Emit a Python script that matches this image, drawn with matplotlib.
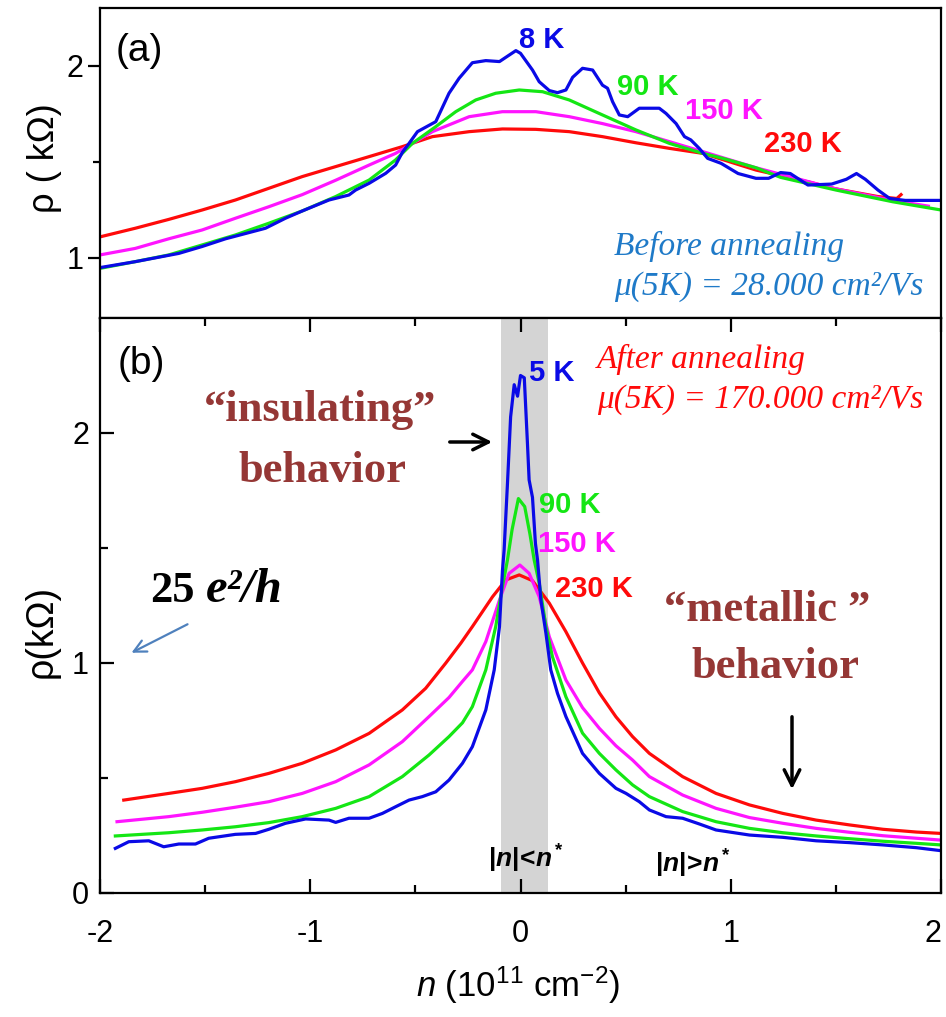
import matplotlib
matplotlib.use('Agg')
import matplotlib.pyplot as plt
from matplotlib import font_manager as fm
from matplotlib.ticker import FixedLocator

names = {f.name for f in fm.fontManager.ttflist}
NARROW = 'Liberation Sans Narrow' if 'Liberation Sans Narrow' in names else 'Liberation Sans'
SERIF = 'Liberation Serif'

plt.rcParams['font.family'] = [NARROW, 'DejaVu Sans']
plt.rcParams['mathtext.fontset'] = 'custom'
plt.rcParams['mathtext.rm'] = NARROW
plt.rcParams['mathtext.it'] = NARROW + ':italic'
plt.rcParams['mathtext.bf'] = NARROW + ':bold'
try:
    plt.rcParams['mathtext.bfit'] = NARROW + ':italic:bold'
except KeyError:
    pass

# ---------------- data: panel (a) before annealing ----------------
a8_x = [-2.0, -1.832, -1.625, -1.514, -1.403, -1.213, -1.118, -1.038, -0.911, -0.816, -0.784,
        -0.72, -0.641, -0.594, -0.562, -0.53, -0.49, -0.403, -0.34, -0.292, -0.229, -0.165,
        -0.10, -0.07, -0.022, 0.0, 0.057, 0.089, 0.137, 0.176, 0.216, 0.248, 0.295, 0.343,
        0.39, 0.414, 0.438, 0.47, 0.51, 0.565, 0.66, 0.692, 0.74, 0.78, 0.81, 0.85, 0.89,
        0.954, 1.035, 1.12, 1.18, 1.237, 1.283, 1.367, 1.48, 1.55, 1.598, 1.64, 1.70, 1.756,
        1.83, 2.0]
a8_y = [0.95, 0.981, 1.024, 1.06, 1.10, 1.155, 1.207, 1.245, 1.302, 1.328, 1.354, 1.389,
        1.441, 1.484, 1.55, 1.597, 1.658, 1.71, 1.858, 1.936, 2.017, 2.028, 2.023, 2.045,
        2.08, 2.066, 1.979, 1.918, 1.872, 1.861, 1.875, 1.941, 1.988, 1.979, 1.90, 1.884,
        1.814, 1.745, 1.736, 1.78, 1.78, 1.753, 1.70, 1.632, 1.615, 1.571, 1.519, 1.493,
        1.44, 1.415, 1.415, 1.445, 1.44, 1.38, 1.385, 1.41, 1.44, 1.41, 1.354, 1.31, 1.30,
        1.30]

a90_x = [-2.0, -1.832, -1.673, -1.514, -1.356, -1.197, -1.038, -0.879, -0.72, -0.595,
         -0.514, -0.403, -0.308, -0.213, -0.118, -0.006, 0.105, 0.232, 0.39, 0.549, 0.708,
         0.867, 0.962, 1.12, 1.237, 1.5, 1.77, 2.0]
a90_y = [0.946, 0.981, 1.016, 1.068, 1.12, 1.181, 1.245, 1.32, 1.406, 1.51, 1.597, 1.684,
         1.762, 1.823, 1.858, 1.875, 1.866, 1.823, 1.745, 1.667, 1.597, 1.545, 1.519, 1.47,
         1.42, 1.354, 1.293, 1.25]

a150_x = [-2.0, -1.832, -1.673, -1.514, -1.356, -1.197, -1.038, -0.879, -0.72, -0.594,
          -0.419, -0.244, -0.086, 0.073, 0.232, 0.39, 0.549, 0.708, 0.867, 1.12, 1.5, 1.77,
          1.94]
a150_y = [1.016, 1.05, 1.10, 1.146, 1.207, 1.267, 1.33, 1.405, 1.484, 1.545, 1.658, 1.736,
          1.762, 1.762, 1.736, 1.70, 1.658, 1.606, 1.554, 1.47, 1.36, 1.30, 1.27]

a230_x = [-2.0, -1.832, -1.673, -1.514, -1.356, -1.197, -1.038, -0.879, -0.72, -0.562,
          -0.419, -0.244, -0.086, 0.073, 0.232, 0.39, 0.549, 0.708, 0.867, 1.12, 1.37, 1.5,
          1.7, 1.79, 1.81]
a230_y = [1.11, 1.155, 1.201, 1.25, 1.302, 1.363, 1.424, 1.476, 1.528, 1.58, 1.632, 1.658,
          1.672, 1.67, 1.658, 1.632, 1.60, 1.571, 1.545, 1.458, 1.396, 1.36, 1.32, 1.31, 1.33]

# ---------------- data: panel (b) after annealing ----------------
b5_x = [-1.927, -1.863, -1.768, -1.697, -1.625, -1.546, -1.483, -1.356, -1.26, -1.197,
        -1.118, -1.022, -0.911, -0.879, -0.816, -0.72, -0.657, -0.594, -0.53, -0.467,
        -0.403, -0.34, -0.276, -0.229, -0.165, -0.125, -0.10, -0.086, -0.078, -0.062,
        -0.047, -0.03, -0.014, 0.0, 0.018, 0.033, 0.041, 0.057, 0.071, 0.081, 0.097, 0.121,
        0.144, 0.176, 0.216, 0.295, 0.375, 0.454, 0.502, 0.565, 0.613, 0.692, 0.771, 0.851,
        0.93, 1.089, 1.248, 1.406, 1.565, 1.724, 1.883, 2.0]
b5_y = [0.194, 0.223, 0.227, 0.201, 0.213, 0.213, 0.238, 0.255, 0.259, 0.277, 0.303, 0.322,
        0.317, 0.307, 0.325, 0.325, 0.346, 0.375, 0.404, 0.419, 0.44, 0.491, 0.564, 0.636,
        0.796, 0.97, 1.158, 1.40, 1.49, 1.78, 2.07, 2.21, 2.16, 2.25, 2.24, 1.956, 1.796,
        1.72, 1.52, 1.448, 1.274, 1.129, 0.97, 0.868, 0.767, 0.607, 0.52, 0.455, 0.433,
        0.397, 0.361, 0.332, 0.325, 0.30, 0.274, 0.252, 0.242, 0.227, 0.219, 0.209, 0.197,
        0.184]

b90_x = [-1.927, -1.673, -1.514, -1.356, -1.197, -1.038, -0.879, -0.72, -0.562, -0.435,
         -0.34, -0.276, -0.229, -0.165, -0.118, -0.086, -0.062, -0.04, -0.01, 0.02, 0.045,
         0.065, 0.089, 0.121, 0.152, 0.216, 0.295, 0.375, 0.454, 0.533, 0.613, 0.771, 0.93,
         1.089, 1.248, 1.406, 1.565, 1.724, 1.883, 2.0]
b90_y = [0.248, 0.262, 0.274, 0.288, 0.306, 0.332, 0.368, 0.419, 0.506, 0.6, 0.68, 0.74,
         0.81, 0.97, 1.158, 1.332, 1.448, 1.58, 1.715, 1.68, 1.56, 1.448, 1.347, 1.158,
         1.027, 0.853, 0.695, 0.607, 0.535, 0.47, 0.419, 0.354, 0.31, 0.281, 0.262, 0.248,
         0.236, 0.225, 0.216, 0.209]

b150_x = [-1.919, -1.673, -1.514, -1.356, -1.197, -1.038, -0.879, -0.72, -0.562, -0.435,
          -0.34, -0.276, -0.229, -0.165, -0.10, -0.054, -0.003, 0.041, 0.089, 0.137, 0.216,
          0.295, 0.375, 0.454, 0.533, 0.613, 0.771, 0.93, 1.089, 1.248, 1.406, 1.565, 1.724,
          1.883, 2.0]
b150_y = [0.31, 0.332, 0.351, 0.373, 0.397, 0.433, 0.484, 0.557, 0.658, 0.767, 0.85, 0.92,
          0.97, 1.093, 1.274, 1.39, 1.426, 1.39, 1.288, 1.114, 0.926, 0.806, 0.716, 0.64,
          0.578, 0.506, 0.426, 0.368, 0.328, 0.303, 0.281, 0.264, 0.249, 0.238, 0.23]

b230_x = [-1.887, -1.673, -1.514, -1.356, -1.197, -1.038, -0.879, -0.72, -0.562, -0.451,
          -0.356, -0.284, -0.229, -0.133, -0.07, -0.006, 0.057, 0.137, 0.216, 0.295, 0.375,
          0.454, 0.533, 0.613, 0.771, 0.93, 1.089, 1.248, 1.406, 1.565, 1.724, 1.883, 2.0]
b230_y = [0.404, 0.433, 0.455, 0.484, 0.52, 0.564, 0.622, 0.694, 0.796, 0.89, 0.999, 1.086,
          1.158, 1.288, 1.361, 1.383, 1.358, 1.26, 1.136, 1.0, 0.87, 0.766, 0.68, 0.607,
          0.506, 0.433, 0.383, 0.346, 0.317, 0.296, 0.277, 0.265, 0.259]

band = [-0.094, 0.129]
xticks_major = [-2, -1, 0, 1, 2]
xtick_labels = ['-2', '-1', '0', '1', '2']
temps_a = ['8 K', '90 K', '150 K', '230 K']
temps_b = ['5 K', '90 K', '150 K', '230 K']

C_BLUE, C_GREEN, C_MAG, C_RED = '#0a0ae6', '#14e614', '#ff14ff', '#ff0a0a'
BROWN = '#953735'
C_NOTE = '#1f7ac8'

W, H = 946, 1017
fig = plt.figure(figsize=(W / 100, H / 100), dpi=100)


def rect(l, t, r, b):
    return [l / W, 1 - b / H, (r - l) / W, (b - t) / H]


def ftext(px, py, s, **kw):
    return fig.text(px / W, 1 - py / H, s, **kw)


axa = fig.add_axes(rect(100, 8, 941, 318))
axb = fig.add_axes(rect(100, 318, 941, 893))

LW = 2.3
axa.plot(a230_x, a230_y, color=C_RED, lw=LW)
axa.plot(a150_x, a150_y, color=C_MAG, lw=LW)
axa.plot(a90_x, a90_y, color=C_GREEN, lw=LW)
axa.plot(a8_x, a8_y, color=C_BLUE, lw=LW)

axb.axvspan(band[0], band[1], color='#d4d4d4', lw=0, zorder=0)
axb.plot(b230_x, b230_y, color=C_RED, lw=LW)
axb.plot(b150_x, b150_y, color=C_MAG, lw=LW)
axb.plot(b90_x, b90_y, color=C_GREEN, lw=LW)
axb.plot(b5_x, b5_y, color=C_BLUE, lw=LW)

for ax in (axa, axb):
    ax.set_xlim(-2, 2)
    for sp in ax.spines.values():
        sp.set_linewidth(1.6)

axa.set_ylim(0.6875, 2.302)
axb.set_ylim(0, 2.5)

# panel a ticks
axa.set_xticks([])
axa.yaxis.set_major_locator(FixedLocator([1, 2]))
axa.yaxis.set_minor_locator(FixedLocator([1.5]))
axa.set_yticklabels(['1', '2'])
axa.tick_params(axis='y', which='major', direction='out', length=9, width=1.6, labelsize=22, pad=3)
axa.tick_params(axis='y', which='minor', direction='out', length=5, width=1.6)

# panel b ticks
axb.set_xticks(xticks_major)
axb.set_xticklabels(xtick_labels)
axb.get_xticklabels()[-1].set_horizontalalignment('right')
axb.xaxis.set_minor_locator(FixedLocator([-1.5, -0.5, 0.5, 1.5]))
axb.yaxis.set_major_locator(FixedLocator([0, 1, 2]))
axb.yaxis.set_minor_locator(FixedLocator([0.5, 1.5]))
axb.set_yticklabels(['0', '1', '2'])
axb.tick_params(axis='x', which='both', direction='in', top=True, bottom=True, width=1.6, labelsize=22, pad=19)
axb.tick_params(axis='x', which='major', length=10)
axb.tick_params(axis='x', which='minor', length=6)
axb.tick_params(axis='y', which='major', direction='in', length=10, width=1.6, labelsize=22, pad=8)
axb.tick_params(axis='y', which='minor', direction='in', length=6, width=1.6)

# axis labels
ftext(45, 158, 'ρ ( kΩ)', rotation=90, ha='center', va='center', fontsize=26)
ftext(42, 631, 'ρ(kΩ)', rotation=90, ha='center', va='center', fontsize=27)
ftext(518, 985, r'$n$ (10$^{11}$ cm$^{-2}$)', ha='center', va='center', fontsize=25)

# panel labels
ftext(139, 51, '(a)', ha='center', va='center', fontsize=28)
ftext(141, 364, '(b)', ha='center', va='center', fontsize=28)

# curve labels
for (px, py), s, c in zip([(542, 40), (648, 87), (724, 111), (803, 144)], temps_a,
                          [C_BLUE, C_GREEN, C_MAG, C_RED]):
    ftext(px, py, s, ha='center', va='center', fontsize=21, fontweight='bold', color=c)
for (px, py), s, c in zip([(552, 373), (570, 505), (577, 544), (594, 589)], temps_b,
                          [C_BLUE, C_GREEN, C_MAG, C_RED]):
    ftext(px, py, s, ha='center', va='center', fontsize=21, fontweight='bold', color=c)

# annealing notes
serif_it = dict(family=SERIF, style='italic', fontsize=24, va='baseline', ha='left')
ftext(614, 255, 'Before annealing', color=C_NOTE, **serif_it)
ftext(614, 295, 'μ(5K) = 28.000 cm²/Vs', color=C_NOTE, **serif_it)
ftext(597, 368, 'After annealing', color=C_RED, **serif_it)
ftext(597, 408, 'μ(5K) = 170.000 cm²/Vs', color=C_RED, **serif_it)

# behaviour labels
serif_b = dict(family=SERIF, fontweight='bold', fontsize=32, color=BROWN, va='baseline', ha='center')
ftext(320, 421, '\u201cinsulating\u201d', **serif_b)
ftext(322, 482, 'behavior', **serif_b)
ftext(767, 621, '\u201cmetallic \u201d', **serif_b)
ftext(775, 678, 'behavior', **serif_b)

ftext(150, 602, '25', family=SERIF, fontweight='bold', fontsize=32, va='baseline', ha='left')
ftext(206, 602, 'e²/h', family=SERIF, fontweight='bold', style='italic', fontsize=35,
      va='baseline', ha='left')

# region labels
t1 = t2 = None
try:
    s1 = r'$\mathbf{|}\mathbfit{n}\mathbf{|\!<\!}\mathbfit{n}^{\,\mathbf{*}}$'
    s2 = r'$\mathbf{|}\mathbfit{n}\mathbf{|\!>\!}\mathbfit{n}^{\,\mathbf{*}}$'
    t1 = ftext(488, 868, s1, fontsize=19, va='baseline', ha='left')
    t2 = ftext(655, 873, s2, fontsize=19, va='baseline', ha='left')
    fig.canvas.draw()
except Exception:
    for t in (t1, t2):
        if t is not None:
            t.remove()
    ftext(488, 868, '|n|<n*', fontsize=19, fontweight='bold', va='baseline', ha='left')
    ftext(655, 873, '|n|>n*', fontsize=19, fontweight='bold', va='baseline', ha='left')


# arrows
def arrow(x0, y0, x1, y1, color='black', lw=2.5, ms=28):
    fig.add_artist(matplotlib.patches.FancyArrowPatch(
        (x0 / W, 1 - y0 / H), (x1 / W, 1 - y1 / H), transform=fig.transFigure,
        arrowstyle='->', mutation_scale=ms, lw=lw, color=color))


arrow(447, 442, 495, 442)
arrow(792, 714, 792, 792)
arrow(190, 623, 129, 654, color='#4f81bd', lw=1.6, ms=22)

fig.savefig('out.png', dpi=100)
